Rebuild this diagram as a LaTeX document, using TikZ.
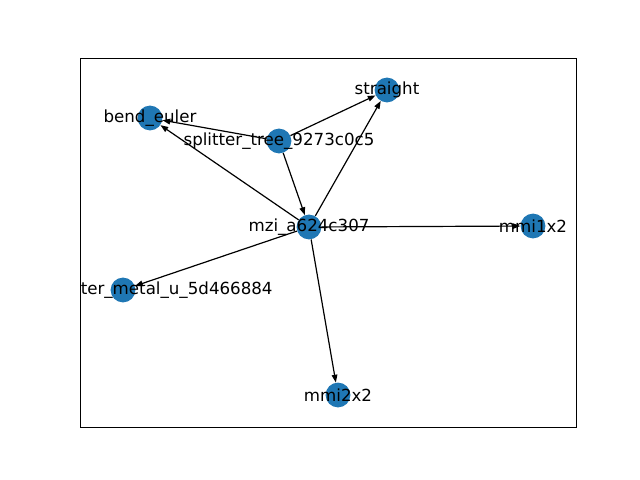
\documentclass[tikz,border=0pt]{standalone}
\usepackage{fontspec}
\setmainfont{DejaVu Sans}
\usepackage{xcolor}
\usetikzlibrary{arrows.meta}
\definecolor{nodeblue}{HTML}{1F77B4}

\begin{document}
\begin{tikzpicture}[x=0.025cm,y=-0.025cm,>={Triangle[length=5.5pt,width=4pt]},
  vert/.style={circle,fill=nodeblue,minimum size=0.62cm,inner sep=0pt},
  lbl/.style={font=\fontsize{11.85}{14}\selectfont,inner sep=0pt},
  link/.style={->,line width=0.85pt}]
  \useasboundingbox (0,0) rectangle (640,480);
  \draw[line width=0.6pt] (80,58) rectangle (576,427);
  % vertices
  \node[vert] (straight) at (387,90) {};
  \node[vert] (bend) at (150,118) {};
  \node[vert] (split) at (279,141) {};
  \node[vert] (mzi) at (309,227) {};
  \node[vert] (mmione) at (533,226) {};
  \node[vert] (heater) at (123,290) {};
  \node[vert] (mmitwo) at (338,395) {};
  % edges
  \draw[link] (split) -- (bend);
  \draw[link] (split) -- (straight);
  \draw[link] (split) -- (mzi);
  \draw[link] (mzi) -- (bend);
  \draw[link] (mzi) -- (straight);
  \draw[link] (mzi) -- (mmione);
  \draw[link] (mzi) -- (heater);
  \draw[link] (mzi) -- (mmitwo);
  % labels
  \node[lbl] (straight-t) at (straight) {straight};
  \node[lbl] (bend-t) at (bend) {bend\_euler};
  \node[lbl] (split-t) at (split) {splitter\_tree\_9273c0c5};
  \node[lbl] (mzi-t) at (mzi) {mzi\_a624c307};
  \node[lbl] (mmione-t) at (mmione) {mmi1x2};
  \node[lbl,anchor=west] (heater-t) at (80.5,290) {ter\_metal\_u\_5d466884};
  \node[lbl] (mmitwo-t) at (mmitwo) {mmi2x2};
\end{tikzpicture}
\end{document}
